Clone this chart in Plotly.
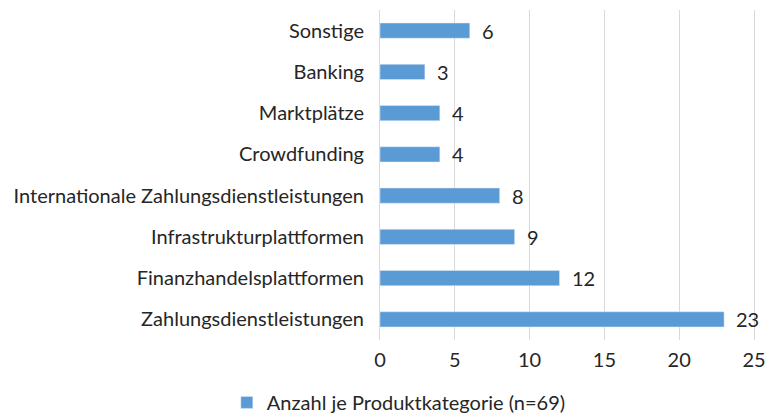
import plotly.graph_objects as go

# Daten
kategorien = ["Zahlungsdienstleistungen", "Finanzhandelsplattformen", "Infrastrukturplattformen",
              "Internationale Zahlungsdienstleistungen", "Crowdfunding", "Marktplätze",
              "Banking", "Sonstige"]
anzahl = [23, 12, 9, 8, 4, 4, 3, 6]
serie = "Anzahl je Produktkategorie (n=69)"

fig = go.Figure()
fig.add_trace(go.Bar(
    name=serie, y=kategorien, x=anzahl, orientation="h",
    marker=dict(color="#5B9BD5"), width=0.37,
))

# Datenbeschriftungen rechts neben den Balken
for k, v in zip(kategorien, anzahl):
    fig.add_annotation(x=v, y=k, text=str(v), showarrow=False,
                       xanchor="left", xshift=10, font=dict(size=20))

fig.update_layout(
    width=767, height=417,
    margin=dict(l=380, r=13, t=10, b=77),
    paper_bgcolor="white", plot_bgcolor="white",
    font=dict(family="Lato, sans-serif", size=20, color="#262626"),
    showlegend=True,
    legend=dict(orientation="h", xref="container", yref="container",
                x=0.52, xanchor="center", y=0.035, yanchor="middle",
                font=dict(size=20)),
)
fig.update_xaxes(range=[0, 25], dtick=5, showgrid=True, gridcolor="#D9D9D9",
                 zeroline=False, showline=False, ticks="", ticklabelstandoff=6,
                 ticklabeloverflow="allow", automargin=False)
# mirror -> Gitterlinie bei 25 am rechten Rand
fig.update_yaxes(showline=True, linecolor="#D9D9D9", linewidth=1, mirror=True,
                 ticks="", ticklabelstandoff=11, automargin=False)

# Seitenrand des Browsers entfernen
fig.write_html("out.html", config={"displayModeBar": False},
               post_script="document.body.style.margin='0';")
